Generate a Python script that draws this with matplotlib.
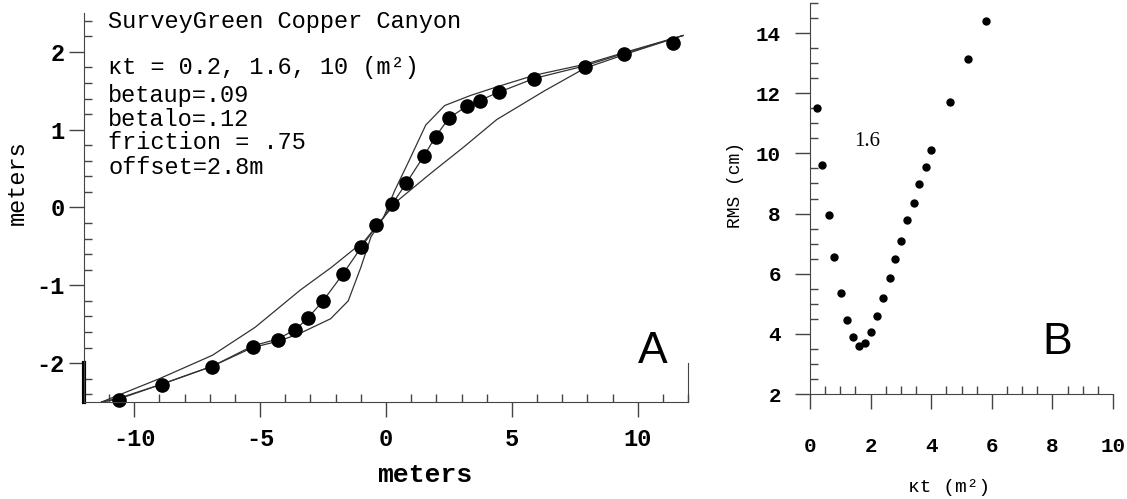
import matplotlib.pyplot as plt
from matplotlib.ticker import MultipleLocator

plt.rcParams['axes.unicode_minus'] = False
plt.rcParams['font.family'] = ['Liberation Mono', 'DejaVu Sans Mono']

# panel A: profile data (dots) and model curves for three kt values
obs_x = [-10.6, -8.9, -6.9, -5.3, -4.3, -3.6, -3.1, -2.5, -1.7, -0.98, -0.4,
         0.24, 0.8, 1.5, 1.97, 2.5, 3.2, 3.75, 4.47, 5.9, 7.9, 9.45, 11.4]
obs_y = [-2.47, -2.28, -2.05, -1.79, -1.70, -1.58, -1.42, -1.20, -0.85, -0.51, -0.23,
         0.04, 0.31, 0.66, 0.91, 1.15, 1.30, 1.37, 1.48, 1.65, 1.80, 1.97, 2.11]

kt02_x = [-11.3, -10.6, -8.9, -6.9, -5.3, -4.3, -3.5, -2.2, -1.5, -1.0, -0.6, -0.1,
          0.35, 0.87, 1.58, 2.33, 3.36, 4.4, 5.9, 7.9, 9.45, 11.8]
kt02_y = [-2.5, -2.45, -2.27, -2.04, -1.80, -1.72, -1.63, -1.43, -1.2, -0.77, -0.38, -0.13,
          0.22, 0.57, 1.06, 1.31, 1.44, 1.55, 1.70, 1.84, 1.99, 2.21]

kt16_x = [-11.3, -10.6, -8.9, -6.9, -5.3, -4.3, -3.6, -3.1, -2.5, -1.7, -0.98, -0.4, -0.1,
          0.24, 0.8, 1.5, 1.97, 2.5, 3.2, 3.75, 4.47, 5.9, 7.9, 9.45, 11.8]
kt16_y = [-2.5, -2.46, -2.27, -2.04, -1.78, -1.69, -1.57, -1.42, -1.20, -0.85, -0.51, -0.25, -0.13,
          0.04, 0.31, 0.66, 0.91, 1.15, 1.30, 1.38, 1.48, 1.66, 1.82, 1.98, 2.21]

kt10_x = [-11.3, -9.0, -6.9, -5.2, -3.4, -2.17, -0.83, -0.1, 0.47, 1.78, 3.1, 4.4,
          6.3, 7.9, 9.7, 11.8]
kt10_y = [-2.5, -2.2, -1.9, -1.54, -1.06, -0.77, -0.42, -0.13, 0.09, 0.44, 0.78, 1.13,
          1.5, 1.79, 1.99, 2.21]

info_lines = ['SurveyGreen Copper Canyon', 'κt = 0.2, 1.6, 10 (m²)', 'betaup=.09',
              'betalo=.12', 'friction = .75', 'offset=2.8m']

# panel B: RMS misfit against kt
kt_vals = [0.23, 0.40, 0.63, 0.80, 1.02, 1.22, 1.43, 1.61, 1.82, 2.0, 2.22, 2.4,
           2.64, 2.8, 3.0, 3.2, 3.42, 3.6, 3.82, 4.0, 4.62, 5.2, 5.8]
rms_vals = [11.5, 9.6, 7.95, 6.55, 5.35, 4.46, 3.88, 3.6, 3.7, 4.06, 4.6, 5.18,
            5.85, 6.5, 7.1, 7.8, 8.35, 8.97, 9.55, 10.1, 11.7, 13.13, 14.4]

fig = plt.figure(figsize=(11.27, 4.99), dpi=100)

# ---- panel A ----
ax = fig.add_axes([0.0745, 0.1944, 0.536, 0.7796])
for cx, cy in [(kt02_x, kt02_y), (kt16_x, kt16_y), (kt10_x, kt10_y)]:
    ax.plot(cx, cy, color='#333333', lw=0.9)
ax.plot(obs_x, obs_y, 'o', color='k', ms=9.5, clip_on=False)

ax.set_xlim(-12, 12)
ax.set_ylim(-2.5, 2.5)
ax.spines['top'].set_visible(False)
ax.spines['right'].set_bounds(-2.5, -2.0)
ax.axvline(-12, 0, 0.1, color='k', lw=3, clip_on=False)
for s in ax.spines.values():
    s.set_color('#444444')
ax.xaxis.set_major_locator(MultipleLocator(5))
ax.xaxis.set_minor_locator(MultipleLocator(1))
ax.yaxis.set_major_locator(MultipleLocator(1))
ax.yaxis.set_minor_locator(MultipleLocator(0.2))
ax.tick_params(which='major', direction='out', length=11, width=1, color='#444444',
               labelsize=17)
ax.tick_params(which='minor', direction='in', length=6, width=1, color='#444444')
ax.tick_params(axis='x', which='major', pad=8)
ax.tick_params(axis='y', which='major', pad=3)
ax.tick_params(right=False, which='both')
for lab in ax.get_xticklabels() + ax.get_yticklabels():
    lab.set_fontweight('bold')

fig.text(425 / 1127, 1 - 475 / 499, 'meters', fontsize=19, fontweight='bold',
         ha='center', va='center')
fig.text(17 / 1127, 1 - 183 / 499, 'meters', fontsize=17, rotation=90,
         ha='center', va='center')

line_y = [0.977, 0.861, 0.789, 0.725, 0.666, 0.604]
for txt, yy in zip(info_lines, line_y):
    ax.text(0.04, yy, txt, transform=ax.transAxes, fontsize=17, va='center',
            ha='left', fontweight='bold' if False else 'normal')
ax.text(0.942, 0.129, 'A', transform=ax.transAxes, fontsize=32,
        family='Liberation Sans', ha='center', va='center')

# ---- panel B ----
bx = fig.add_axes([0.7187, 0.2104, 0.2689, 0.7836])
bx.plot(kt_vals, rms_vals, 'o', color='k', ms=5, clip_on=False)
bx.set_xlim(0, 10)
bx.set_ylim(2, 15)
bx.spines['top'].set_visible(False)
bx.spines['right'].set_visible(False)
for s in bx.spines.values():
    s.set_color('#444444')
bx.xaxis.set_major_locator(MultipleLocator(2))
bx.xaxis.set_minor_locator(MultipleLocator(0.5))
bx.yaxis.set_major_locator(MultipleLocator(2))
bx.yaxis.set_minor_locator(MultipleLocator(0.5))
bx.set_yticks(range(2, 15, 2))
bx.tick_params(which='major', direction='out', length=11, width=1, color='#444444',
               labelsize=15)
bx.tick_params(which='minor', direction='in', length=6, width=1, color='#444444')
bx.tick_params(axis='x', which='major', pad=20)
bx.tick_params(axis='y', which='major', pad=10)
for lab in bx.get_xticklabels() + bx.get_yticklabels():
    lab.set_fontweight('bold')

fig.text(949 / 1127, 1 - 487 / 499, 'κt (m²)', fontsize=14, ha='center', va='center')
fig.text(735 / 1127, 1 - 185 / 499, 'RMS (cm)', fontsize=13, rotation=90,
         ha='center', va='center')
bx.text(1.9, 10.4, '1.6', fontsize=15, family='Liberation Serif',
        ha='center', va='center')
bx.text(0.815, 0.133, 'B', transform=bx.transAxes, fontsize=32,
        family='Liberation Sans', ha='center', va='center')

fig.savefig('out.png', dpi=100)
